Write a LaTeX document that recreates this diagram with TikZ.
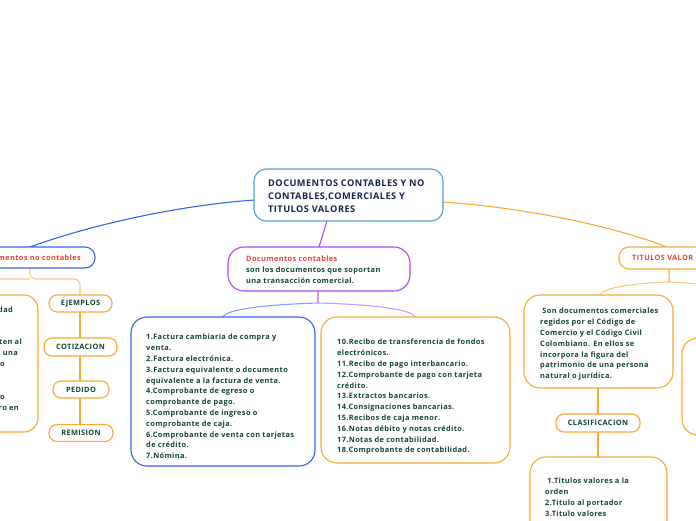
\documentclass[tikz,border=0pt]{standalone}
\usepackage{fontspec}
\setmainfont{Open Sans}[LetterSpace=5]
\definecolor{cblue}{RGB}{50,100,240}
\definecolor{cpurple}{RGB}{175,70,240}
\definecolor{corange}{RGB}{248,170,50}
\definecolor{clorange}{RGB}{250,200,130}
\definecolor{clblue}{RGB}{130,160,245}
\definecolor{clpurple}{RGB}{210,150,245}
\definecolor{ccentral}{RGB}{80,160,220}
\definecolor{cred}{RGB}{230,70,60}
\definecolor{cgreen}{RGB}{20,70,50}
\definecolor{cnavy}{RGB}{25,35,80}
\begin{document}
\begin{tikzpicture}[x=1pt,y=-1pt,
  bigbox/.style={draw, fill=white, line width=1.1pt, rounded corners=14pt, inner sep=0pt},
  pill/.style={draw=corange, fill=white, line width=1.1pt, rounded corners=8pt, inner sep=0pt,
    font=\fontsize{7.4}{9}\selectfont\bfseries, text=cgreen},
  txt/.style={inner sep=0pt, align=left, anchor=north west,
    font=\fontsize{7.4}{10.8}\selectfont\bfseries, text=cgreen},
  conn/.style={line width=1.1pt}
]
\useasboundingbox (0,0) rectangle (696,520);
\clip (0,0) rectangle (696,520);

% coordinates
\coordinate (cL) at (255,200);
\coordinate (cR) at (442,202);
\coordinate (cB) at (327,221);
\coordinate (ncT) at (30,247);
\coordinate (ncB) at (30,268);
\coordinate (ncS) at (30,279);
\coordinate (ncX) at (-40,295);
\coordinate (dcT) at (319,247);
\coordinate (dcB) at (318,291);
\coordinate (dcS) at (318,303);
\coordinate (l1T) at (223,317);
\coordinate (l2T) at (415,317);
\coordinate (tvT) at (667,247);
\coordinate (tvB) at (669,269);
\coordinate (tvS) at (669,282);
\coordinate (tdT) at (600,295);
\coordinate (tvX) at (760,300);

% connectors (behind boxes)
\draw[conn, cblue] (cL) .. controls (180,205) and (90,225) .. (ncT);
\draw[conn, corange] (cR) .. controls (520,207) and (610,225) .. (tvT);
\draw[conn, cpurple] (cB) -- (dcT);
\draw[conn, clorange, rounded corners=6pt] (ncB) -- (ncS) -- (80,279) -- (80,295);
\draw[conn, clorange, rounded corners=6pt] (ncS) -- (-40,279) -- (ncX);
\draw[conn, corange] (80,300) -- (80,430);
\draw[conn, clpurple] (dcB) -- (dcS);
\draw[conn, clblue] (dcS) .. controls (280,304) and (226,308) .. (l1T);
\draw[conn, clpurple] (dcS) .. controls (360,304) and (412,308) .. (l2T);
\draw[conn, clorange] (tvB) -- (tvS);
\draw[conn, clorange] (tvS) .. controls (640,283) and (602,287) .. (tdT);
\draw[conn, clorange] (tvS) .. controls (690,283) and (720,284) .. (tvX);
\draw[conn, corange] (598,388) -- (598,460);

% central
\node[bigbox, draw=ccentral, rounded corners=12pt, minimum width=189pt, minimum height=52pt] (central) at (348.5,195) {};
\node[txt, font=\fontsize{9.2}{13}\selectfont\bfseries, text=cnavy] (centralt) at (268,179.7)
  {DOCUMENTOS CONTABLES Y NO\\CONTABLES,COMERCIALES Y\\TITULOS VALORES};

% documentos no contables
\node[bigbox, draw=cblue, rounded corners=10pt, minimum width=175pt, minimum height=21pt] (nocont) at (7.5,257.5) {};
\node[inner sep=0pt, anchor=east, font=\fontsize{7.4}{9}\selectfont\bfseries, text=cred] (nocontt) at (81,258) {Documentos no contables};

% left partial box
\node[bigbox, draw=corange, minimum width=160pt, minimum height=137pt] (leftbox) at (-42,363.5) {};
\begin{scope}[every node/.style={inner sep=0pt, anchor=east, font=\fontsize{7.4}{9}\selectfont\bfseries, text=cgreen}]
\node (lf1) at (13,310) {dad};
\node (lf2) at (22,342) {ten al};
\node (lf3) at (18,353) {una};
\node (lf4) at (5,364) {o};
\node (lf5) at (5,397) {o};
\node (lf6) at (19,408) {ro en};
\end{scope}

% pills left
\node[pill, minimum width=63pt, minimum height=17pt] (ejem) at (80.5,303.5) {EJEMPLOS};
\node[pill, minimum width=73pt, minimum height=18pt] (coti) at (80.5,347) {COTIZACION};
\node[pill, minimum width=56pt, minimum height=17pt] (pedi) at (81,389.5) {PEDIDO};
\node[pill, minimum width=64pt, minimum height=17pt] (remi) at (81,433) {REMISION};

% documentos contables
\node[bigbox, draw=cpurple, rounded corners=16pt, minimum width=182pt, minimum height=44pt] (doccont) at (319,269) {};
\node[txt] (doccontt) at (246,256)
  {\textcolor{cred}{Documentos contables}\\son los documentos que soportan\\una transacción comercial.};

% blue list
\node[bigbox, draw=cblue, rounded corners=16pt, minimum width=184pt, minimum height=149pt] (list1) at (223,391.5) {};
\node[txt] (list1t) at (146,334)
  {1.Factura cambiaria de compra y\\venta.\\2.Factura electrónica.\\3.Factura equivalente o documento\\equivalente a la factura de venta.\\4.Comprobante de egreso o\\comprobante de pago.\\5.Comprobante de ingreso o\\comprobante de caja.\\6.Comprobante de venta con tarjetas\\de crédito.\\7.Nómina.};

% orange list
\node[bigbox, draw=corange, rounded corners=16pt, minimum width=189pt, minimum height=146pt] (list2) at (415.5,390) {};
\node[txt] (list2t) at (337,339)
  {10.Recibo de transferencia de fondos\\electrónicos.\\11.Recibo de pago interbancario.\\12.Comprobante de pago con tarjeta\\crédito.\\13.Extractos bancarios.\\14.Consignaciones bancarias.\\15.Recibos de caja menor.\\16.Notas débito y notas crédito.\\17.Notas de contabilidad.\\18.Comprobante de contabilidad.};

% titulos valores
\node[bigbox, draw=corange, rounded corners=10pt, minimum width=180pt, minimum height=22pt] (titv) at (709,258) {};
\node[inner sep=0pt, anchor=west, font=\fontsize{7.4}{9}\selectfont\bfseries, text=cred] (titvt) at (632,258) {TITULOS VALOR};

% titulos description
\node[bigbox, draw=corange, rounded corners=16pt, minimum width=149pt, minimum height=93pt] (tdesc) at (598.5,341.5) {};
\node[txt] (tdesct) at (540,308)
  {\ Son documentos comerciales\\regidos por el Código de\\Comercio y el Código Civil\\Colombiano. En ellos se\\incorpora la figura del\\patrimonio de una persona\\natural o jurídica.};

% right partial box
\node[bigbox, draw=corange, rounded corners=16pt, minimum width=120pt, minimum height=97pt] (rbox) at (742,386.5) {};

% clasificacion
\node[pill, minimum width=84pt, minimum height=18pt] (clas) at (598,423) {CLASIFICACION};

% clasificacion list
\node[bigbox, draw=corange, rounded corners=16pt, minimum width=137pt, minimum height=120pt] (clist) at (598.5,517) {};
\node[txt] (clistt) at (545,478)
  {\ 1.Titulos valores a la\\orden\\2.Titulo al portador\\3.Titulo valores};
\end{tikzpicture}
\end{document}
